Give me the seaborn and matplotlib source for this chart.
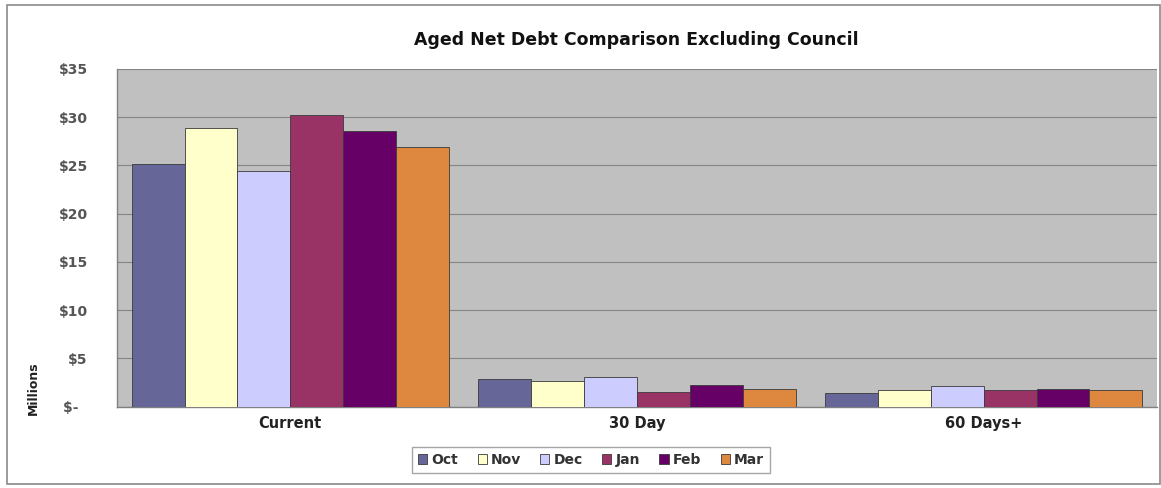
import matplotlib
matplotlib.use("Agg")
import matplotlib.pyplot as plt
import seaborn as sns
import pandas as pd
from matplotlib.patches import Rectangle
from matplotlib.ticker import FixedLocator

categories = ["Current", "30 Day", "60 Days+"]
months = ["Oct", "Nov", "Dec", "Jan", "Feb", "Mar"]
oct_vals = [25.2, 2.9, 1.45]
nov_vals = [28.9, 2.7, 1.75]
dec_vals = [24.4, 3.1, 2.15]
jan_vals = [30.2, 1.55, 1.75]
feb_vals = [28.6, 2.3, 1.85]
mar_vals = [26.9, 1.8, 1.7]
y_ticks = [0, 5, 10, 15, 20, 25, 30, 35]
y_labels = ["$-  ", "$5", "$10", "$15", "$20", "$25", "$30", "$35"]
colors = ["#666699", "#FFFFCC", "#CCCCFF", "#993366", "#660066", "#DE873F"]

series = [oct_vals, nov_vals, dec_vals, jan_vals, feb_vals, mar_vals]
rows = []
for m, vals in zip(months, series):
    for c, v in zip(categories, vals):
        rows.append({"Category": c, "Month": m, "Value": v})
df = pd.DataFrame(rows)

sns.set_theme(style="white")
plt.rcParams["font.family"] = ["DejaVu Sans"]

fig = plt.figure(figsize=(11.61, 4.88), dpi=100)
ax = fig.add_axes([117 / 1161, 1 - 406.7 / 488, (1157 - 117) / 1161, (406.7 - 69) / 488])

sns.barplot(data=df, x="Category", y="Value", hue="Month", order=categories,
            hue_order=months, palette=colors, width=0.915, gap=0,
            edgecolor="#3a3a3a", linewidth=0.6, saturation=1, ax=ax, zorder=3)

ax.set_facecolor("#C0C0C0")
ax.set_ylim(0, 35)
ax.set_xlim(-0.5, 2.5)
ax.set_yticks(y_ticks)
ax.set_yticklabels(y_labels)
ax.yaxis.grid(True, color="#858585", linewidth=0.8, zorder=0)
ax.set_axisbelow(True)
for s in ["top", "right"]:
    ax.spines[s].set_visible(False)
ax.spines["left"].set_color("#808080")
ax.spines["bottom"].set_color("#808080")
ax.spines["left"].set_linewidth(1.0)
ax.spines["bottom"].set_linewidth(1.0)

ax.tick_params(axis="y", which="major", length=4, color="#808080", direction="out",
               labelsize=10, labelcolor="#555555", pad=17)
for t in ax.get_yticklabels():
    t.set_fontweight("bold")
ax.tick_params(axis="x", which="major", length=0, labelsize=10.5, labelcolor="#222222", pad=7)
for t in ax.get_xticklabels():
    t.set_fontweight("bold")
ax.xaxis.set_minor_locator(FixedLocator([0.5, 1.5]))
ax.tick_params(axis="x", which="minor", length=4, color="#808080", direction="out")

ax.set_xlabel("")
ax.set_ylabel("")

fig.text(33 / 1161, 1 - 388 / 488, "Millions", rotation=90, fontsize=9, fontweight="bold",
         ha="center", va="center", color="#222222")

fig.text(636 / 1161, 1 - 40 / 488, "Aged Net Debt Comparison Excluding Council",
         fontsize=12.5, fontweight="bold", ha="center", va="center", color="#111111")

handles, labels = ax.get_legend_handles_labels()
ax.get_legend().remove()
leg = fig.legend(handles, labels, loc="center", bbox_to_anchor=(591 / 1161, 1 - 460 / 488),
                 ncol=6, frameon=True, fancybox=False, fontsize=10,
                 handlelength=0.65, handleheight=0.65, handletextpad=0.3,
                 columnspacing=1.4, borderpad=0.45)
leg.get_frame().set_edgecolor("#909090")
leg.get_frame().set_linewidth(1.0)
for t in leg.get_texts():
    t.set_fontweight("bold")
    t.set_color("#333333")

fig.patches.append(Rectangle((7 / 1161, 1 - 484 / 488), (1160 - 7) / 1161, (484 - 5) / 488,
                             transform=fig.transFigure, fill=False, edgecolor="#8a8a8a",
                             linewidth=1.2))

fig.savefig("out.png", dpi=100, facecolor="white")
